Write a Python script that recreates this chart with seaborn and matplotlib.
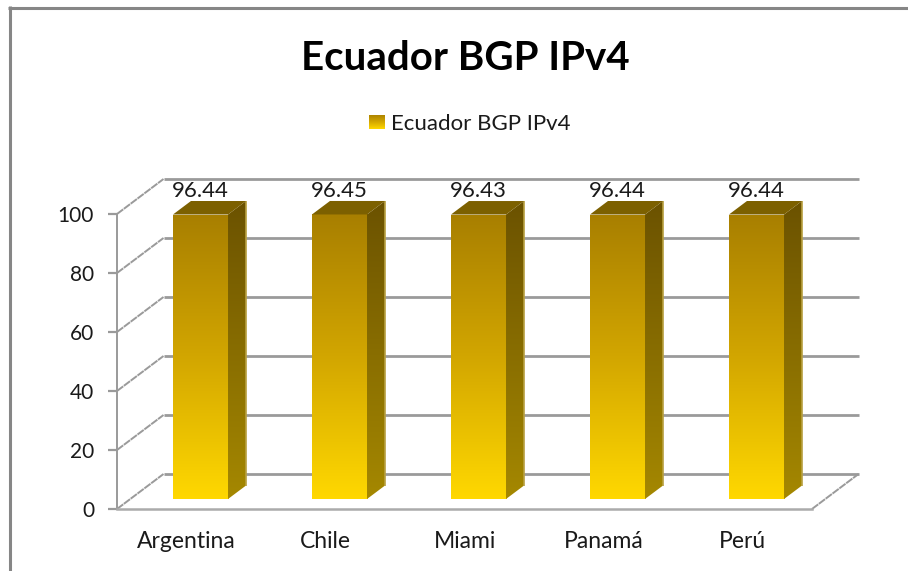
import numpy as np
import pandas as pd
import matplotlib
matplotlib.use("Agg")
import matplotlib.pyplot as plt
from matplotlib.colors import LinearSegmentedColormap
from matplotlib.lines import Line2D
from matplotlib.patches import Polygon
from matplotlib.transforms import Affine2D
import seaborn as sns

title = "Ecuador BGP IPv4"
series_name = "Ecuador BGP IPv4"
categories = ["Argentina", "Chile", "Miami", "Panamá", "Perú"]
values = [96.44, 96.45, 96.43, 96.44, 96.44]
y_ticks = [0, 20, 40, 60, 80, 100]

sns.set_theme(style="white")
plt.rcParams['font.family'] = ['Lato', 'DejaVu Sans']

W, H = 908, 571
fig = plt.figure(figsize=(W / 100, H / 100), dpi=100, facecolor="white")


def box(x0, ytop, x1, ybottom):
    return [x0 / W, 1 - ybottom / H, (x1 - x0) / W, (ybottom - ytop) / H]


GRID = "#9a9a9a"
TXT = "#1a1a1a"

# outer frame (left and top only)
fig.add_artist(Line2D([9.5 / W, 9.5 / W], [0, 1 - 6 / H], color="#868686", lw=2.2, solid_capstyle="butt"))
fig.add_artist(Line2D([8 / W, 1], [1 - 7.5 / H, 1 - 7.5 / H], color="#868686", lw=2.2, solid_capstyle="butt"))

# front plane: axis, ticks and labels
ax = fig.add_axes(box(117, 214, 812, 509))
ax.set_xlim(-0.5, 4.5)
ax.set_ylim(0, 100)
ax.patch.set_alpha(0)
for s in ax.spines.values():
    s.set_visible(False)
ax.spines["left"].set_visible(True)
ax.spines["left"].set_color(GRID)
ax.spines["left"].set_linewidth(1.4)
ax.spines["bottom"].set_visible(True)
ax.spines["bottom"].set_color("#ababab")
ax.spines["bottom"].set_linewidth(1.8)
ax.set_yticks(y_ticks)
ax.tick_params(axis="y", left=True, length=6.5, width=1.6, color=GRID, labelsize=15,
               labelcolor=TXT, pad=10)
ax.set_xticks(range(len(categories)))
ax.set_xticklabels(categories)
ax.tick_params(axis="x", bottom=False, labelsize=16.5, labelcolor=TXT, pad=10)

# back wall and side-wall gridlines, offset from the front plane by the chart's depth
DX, DY = 46.5, 35
back = ax.get_yaxis_transform() + Affine2D().translate(DX, DY)
for t in y_ticks:
    ax.plot([0, 1], [t, t], transform=back, color=GRID, lw=2.0, clip_on=False, zorder=1,
            solid_capstyle="butt")
    y_disp = ax.transData.transform((0, t))[1]
    ax.add_line(Line2D([117, 117 + DX], [y_disp, y_disp + DY], transform=None, color=GRID,
                       lw=1.4, ls=(0, (4, 0.4)), clip_on=False, zorder=1))
y0_disp = ax.transData.transform((0, 0))[1]
ax.add_line(Line2D([812, 812 + DX], [y0_disp, y0_disp + DY], transform=None, color=GRID,
                   lw=1.4, ls=(0, (4, 0.4)), clip_on=False, zorder=1))

# bars stand mid-depth on the floor
YSCALE = 2.95
YTOP_LIM = 112
ax_bar = fig.add_axes(box(131, 499 - YTOP_LIM * YSCALE, 826, 499))
ax_bar.patch.set_alpha(0)
df = pd.DataFrame({"site": categories, "value": values})
sns.barplot(data=df, x="site", y="value", ax=ax_bar, width=0.396, color="#D0A000",
            edgecolor="none", linewidth=0, saturation=1)
ax_bar.set_xlim(-0.5, 4.5)
ax_bar.set_ylim(0, YTOP_LIM)
ax_bar.axis("off")

front_cm = LinearSegmentedColormap.from_list("f", ["#A87F00", "#D2A600", "#FFD800"])
side_cm = LinearSegmentedColormap.from_list("s", ["#6B5200", "#A58800"])
grad = np.linspace(0, 1, 256).reshape(-1, 1)

px_x = 139.0
bar_dx = 18 / px_x
bar_dy = 13.5 / YSCALE

for p in list(ax_bar.containers[0]):
    x0, w, h = p.get_x(), p.get_width(), p.get_height()
    x1 = x0 + w
    im = ax_bar.imshow(grad, cmap=front_cm, extent=(x0, x1, 0, h), aspect="auto", origin="upper",
                       zorder=3)
    im.set_clip_path(p)
    side = Polygon([(x1, 0), (x1 + bar_dx, bar_dy), (x1 + bar_dx, h + bar_dy), (x1, h)],
                   closed=True, transform=ax_bar.transData, fc="none", ec="none")
    ax_bar.add_patch(side)
    ims = ax_bar.imshow(grad, cmap=side_cm, extent=(x1, x1 + bar_dx, 0, h + bar_dy),
                        aspect="auto", origin="upper", zorder=3)
    ims.set_clip_path(side)
    ax_bar.plot([x1 + bar_dx, x1 + bar_dx], [bar_dy, h + bar_dy], color="#B8A040", lw=1.2,
                zorder=3, solid_capstyle="butt")
    ax_bar.add_patch(Polygon([(x0, h), (x0 + bar_dx, h + bar_dy), (x1 + bar_dx, h + bar_dy), (x1, h)],
                             closed=True, fc="#7C6000", ec="none", zorder=3))
ax_bar.set_xlim(-0.5, 4.5)
ax_bar.set_ylim(0, YTOP_LIM)

for c in ax_bar.containers:
    ax_bar.bar_label(c, fmt="%.2f", padding=10, fontsize=16, color=TXT, zorder=5)

# title and legend
fig.text(465 / W, 1 - 59 / H, title, ha="center", va="center", fontsize=29, fontweight="bold",
         color="black")
ax_sw = fig.add_axes(box(369, 115, 385, 129))
ax_sw.imshow(grad, cmap=front_cm, aspect="auto")
ax_sw.axis("off")
fig.text(391 / W, 1 - 124 / H, series_name, ha="left", va="center", fontsize=16, color=TXT)

fig.savefig("out.png", dpi=100, facecolor="white")
